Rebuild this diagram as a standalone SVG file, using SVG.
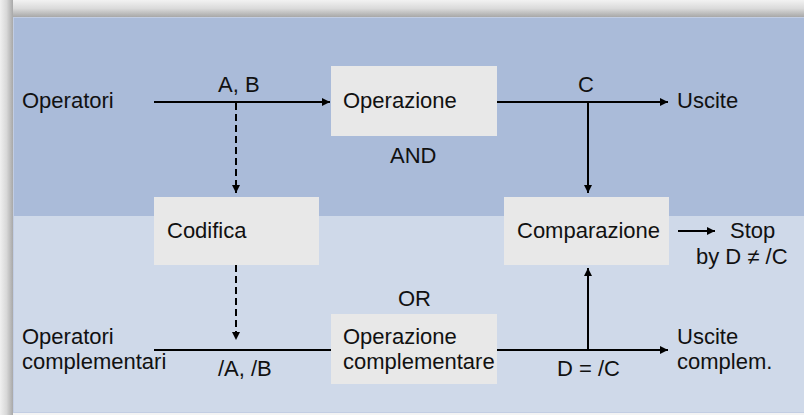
<svg xmlns="http://www.w3.org/2000/svg" width="804" height="415" viewBox="0 0 804 415">
<style>
text{font-family:"Liberation Sans",Arial,sans-serif;font-size:22px;fill:#111}
.box{fill:#E8E8E8}
.ln{stroke:#000;stroke-width:2;fill:none}
.dash{stroke:#000;stroke-width:2;fill:none;stroke-dasharray:7 4}
</style>
<defs>
<marker id="ah" viewBox="0 0 10 10" refX="10" refY="5" markerWidth="9" markerHeight="8" markerUnits="userSpaceOnUse" orient="auto">
<path d="M0,0 L10,5 L0,10 Z" fill="#000"/>
</marker>
<linearGradient id="gt" x1="0" y1="0" x2="0" y2="1">
<stop offset="0" stop-color="#f2f2f2"/>
<stop offset="0.5" stop-color="#dadada"/>
<stop offset="1" stop-color="#a8a8a8"/>
</linearGradient>
<linearGradient id="gl" x1="0" y1="0" x2="1" y2="0">
<stop offset="0" stop-color="#f0f0f0"/>
<stop offset="0.5" stop-color="#d8d8d8"/>
<stop offset="1" stop-color="#a8a8a8"/>
</linearGradient>
</defs>
<rect x="0" y="0" width="804" height="415" fill="#f4f4f4"/>
<rect x="0" y="0" width="804" height="17" fill="url(#gt)"/>
<rect x="0" y="0" width="13" height="415" fill="url(#gl)"/>
<rect x="13" y="17" width="791" height="199" fill="#AABBD9"/>
<rect x="13" y="216" width="791" height="197" fill="#CFD9E9"/>
<rect x="13.5" y="17.5" width="791" height="395" fill="none" stroke="#c2cde3" stroke-width="1"/>

<g id="connectors">
<line class="ln" x1="154" y1="102" x2="330" y2="102" marker-end="url(#ah)"/>
<line class="dash" x1="236" y1="103" x2="236" y2="193" marker-end="url(#ah)"/>
<line class="dash" x1="236" y1="265" x2="236" y2="340" marker-end="url(#ah)"/>
<line class="ln" x1="154" y1="350" x2="331" y2="350"/>
<line class="ln" x1="497" y1="102" x2="668" y2="102" marker-end="url(#ah)"/>
<line class="ln" x1="588" y1="102" x2="588" y2="193" marker-end="url(#ah)"/>
<line class="ln" x1="497" y1="350" x2="668" y2="350" marker-end="url(#ah)"/>
<line class="ln" x1="588" y1="350" x2="588" y2="268" marker-end="url(#ah)"/>
<line class="ln" x1="678" y1="231" x2="715" y2="231" marker-end="url(#ah)"/>
</g>

<g id="labels">
<text x="22" y="108">Operatori</text>
<text x="218" y="92">A, B</text>
<text x="578" y="92">C</text>
<text x="677" y="108">Uscite</text>
<text x="390" y="163">AND</text>
<text x="398" y="306">OR</text>
<text x="22" y="344">Operatori</text>
<text x="22" y="369">complementari</text>
<text x="218" y="376">/A, /B</text>
<text x="557" y="376">D = /C</text>
<text x="677" y="344">Uscite</text>
<text x="677" y="369">complem.</text>
<text x="730" y="238">Stop</text>
<text x="696" y="264">by D ≠ /C</text>
</g>

<g id="operazione">
<rect class="box" x="331" y="66" width="166" height="70"/>
<text x="343" y="108">Operazione</text>
</g>
<g id="codifica">
<rect class="box" x="154" y="197" width="165" height="68"/>
<text x="167" y="238">Codifica</text>
</g>
<g id="comparazione">
<rect class="box" x="504" y="197" width="165" height="68"/>
<text x="517" y="238">Comparazione</text>
</g>
<g id="operazione-complementare">
<rect class="box" x="331" y="314" width="166" height="70"/>
<text x="343" y="344">Operazione</text>
<text x="343" y="369">complementare</text>
</g>
</svg>
